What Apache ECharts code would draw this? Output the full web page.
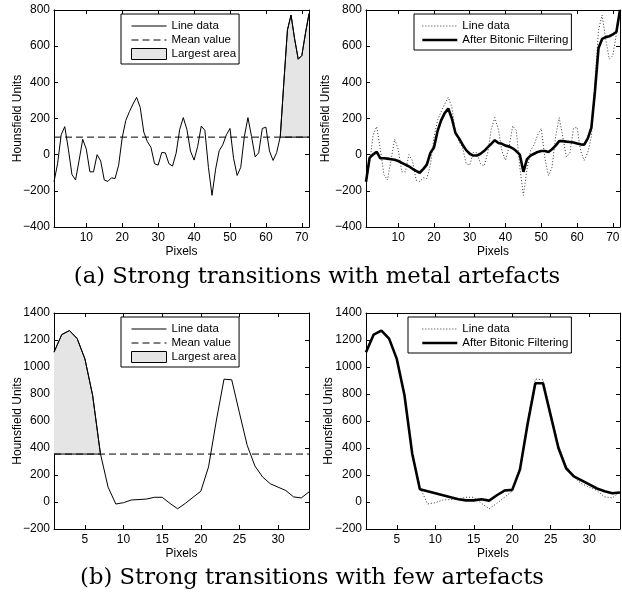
<!DOCTYPE html>
<html>
<head>
<meta charset="utf-8">
<script src="https://cdn.jsdelivr.net/npm/echarts@6/dist/echarts.min.js"></script>
<style>
html, body { margin: 0; padding: 0; background: #fff; }
#chart { width: 622px; height: 599px; }
</style>
</head>
<body>
<div id="chart"></div>
<script>
// (a) strong transitions with metal artefacts
const lineA = [
    -150, -50, 110, 155, 30, -110, -140, -30, 85, 30,
    -95, -95, 0, -35, -140, -148, -128, -132, -58, 95,
    190, 238, 280, 317, 262, 125, 72, 40, -50, -58,
    12, 10, -50, -63, 8, 140, 205, 140, 20, -30,
    45, 158, 135, -70, -225, -80, 22, 55, 110, 145,
    -20, -115, -70, 100, 205, 100, -12, 10, 145, 152,
    20, -32, 12, 100, 400, 690, 772, 640, 528, 548, 670, 780
]
const filteredA = [
    -150, -18, 2, 15, -20, -20, -22, -25, -28, -35,
    -45, -55, -65, -78, -90, -100, -80, -55, 10, 40,
    130, 190, 230, 255, 200, 120, 90, 55, 25, 5,
    -5, -5, 5, 20, 40, 60, 80, 65, 60, 50,
    45, 35, 20, 0, -95, -25, -5, 5, 15, 20,
    20, 15, 30, 50, 75, 75, 72, 70, 67, 62,
    57, 55, 90, 150, 350, 590, 640, 650, 655, 665, 680, 800
]
const meanA = 97
const areaStartA = 64
const areaEndA = 72
const xTicksA = [10, 20, 30, 40, 50, 60, 70]

// (b) strong transitions with few artefacts
const lineB = [
    1110, 1240, 1270, 1210, 1060, 790, 360, 110, -15, -5,
    15, 18, 22, 35, 35, -10, -50, -10, 35, 80,
    260, 600, 910, 905, 660, 420, 267, 185, 135, 110,
    85, 38, 30, 75
]
const filteredB = [
    1110, 1240, 1270, 1210, 1060, 790, 360, 95, 80, 65,
    50, 35, 20, 12, 12, 20, 10, 50, 85, 90,
    240, 580, 880, 880, 640, 400, 250, 190, 160, 130,
    100, 80, 65, 70
]
const meanB = 355
const areaStartB = 1
const areaEndB = 7
const xTicksB = [5, 10, 15, 20, 25, 30]

const sans = 'Liberation Sans'
const black = '#000'
const fillGrey = '#e5e5e5'
const dash = [7, 4]
const dot = [1, 2]

const toPairs = (arr) => arr.map((v, i) => [i + 1, v])
// matlab style minus sign, no thousands separator
const tickFormat = (v) => (v < 0 ? '\u2212' + Math.abs(v) : String(v))

const grids = [
    { left: 54, top: 10, width: 255, height: 217 },
    { left: 366, top: 10, width: 254, height: 217 },
    { left: 54, top: 313, width: 255, height: 216 },
    { left: 366, top: 313, width: 254, height: 216 },
].map(g => Object.assign({ containLabel: false, outerBoundsMode: 'none' }, g))

const axisText = { color: black, fontSize: 12, fontFamily: sans }

const makeX = (gridIndex, max, ticks) => {
    const base = {
        type: 'value', gridIndex, min: 1, max,
        axisLine: { show: true, onZero: false, lineStyle: { color: black, width: 1 } },
        axisTick: { show: true, inside: true, length: 4, customValues: ticks, lineStyle: { color: black } },
        splitLine: { show: false },
    }
    return [
        Object.assign({}, base, {
            position: 'bottom',
            axisLabel: Object.assign({ customValues: ticks, margin: 5, formatter: tickFormat }, axisText),
            name: 'Pixels', nameLocation: 'middle', nameGap: 19, nameMoveOverlap: false,
            nameTextStyle: axisText,
        }),
        Object.assign({}, base, { position: 'top', axisLabel: { show: false } }),
    ]
}

const makeY = (gridIndex, min, max, gap) => {
    const base = {
        type: 'value', gridIndex, min, max, interval: 200,
        axisLine: { show: true, onZero: false, lineStyle: { color: black, width: 1 } },
        axisTick: { show: true, inside: true, length: 4, lineStyle: { color: black } },
        splitLine: { show: false },
    }
    return [
        Object.assign({}, base, {
            position: 'left',
            axisLabel: Object.assign({ margin: 4, formatter: tickFormat }, axisText),
            name: 'Hounsfield Units', nameLocation: 'middle', nameGap: gap, nameMoveOverlap: false,
            nameTextStyle: axisText,
        }),
        Object.assign({}, base, { position: 'right', axisLabel: { show: false } }),
    ]
}

const xAxis = [].concat(makeX(0, 72, xTicksA), makeX(1, 72, xTicksA), makeX(2, 34, xTicksB), makeX(3, 34, xTicksB))
const yAxis = [].concat(makeY(0, -400, 800, 30), makeY(1, -400, 800, 34), makeY(2, -200, 1400, 30), makeY(3, -200, 1400, 31))

const plain = (name, idx, data, style) => ({
    type: 'line', name, xAxisIndex: idx * 2, yAxisIndex: idx * 2, data,
    symbol: 'none', silent: true, animation: false,
    lineStyle: Object.assign({ color: black, width: 1 }, style),
})

// panel with mean line and shaded largest area
const areaPanel = (idx, line, mean, start, end) => [
    Object.assign(plain('Largest area', idx, toPairs(line).slice(start - 1, end)), {
        areaStyle: { color: fillGrey, opacity: 1, origin: mean },
    }),
    plain('area edge', idx, [[start, mean], [end, mean]]),
    plain('Mean value', idx, [[1, mean], [line.length, mean]], { type: dash }),
    plain('Line data', idx, toPairs(line)),
]

// panel with raw data dotted and filtered data bold
const filterPanel = (idx, line, filtered) => [
    plain('Line data', idx, toPairs(line), { type: dot, color: '#333' }),
    plain('After Bitonic Filtering', idx, toPairs(filtered), { width: 2.6 }),
]

const series = [].concat(
    areaPanel(0, lineA, meanA, areaStartA, areaEndA),
    filterPanel(1, lineA, filteredA),
    areaPanel(2, lineB, meanB, areaStartB, areaEndB),
    filterPanel(3, lineB, filteredB)
)

const legendBase = {
    orient: 'vertical', selectedMode: false,
    backgroundColor: '#fff', borderColor: black, borderWidth: 1, borderRadius: 0,
    itemWidth: 35, itemHeight: 11, itemGap: 2,
    textStyle: { color: black, fontSize: 11.5, fontFamily: sans },
}
// hide the symbol that line series put in the middle of their legend line
const noSymbol = { color: 'rgba(0,0,0,0)', opacity: 0, borderWidth: 0 }
const areaLegendData = [
    { name: 'Line data', itemStyle: noSymbol, lineStyle: { type: 'solid', width: 1, color: black } },
    { name: 'Mean value', itemStyle: noSymbol, lineStyle: { type: dash, width: 1, color: black } },
    { name: 'Largest area', icon: 'rect', itemStyle: { color: fillGrey, borderColor: black, borderWidth: 1 } },
]
const filterLegendData = [
    { name: 'Line data', itemStyle: noSymbol, lineStyle: { type: dot, width: 1, color: '#333' } },
    { name: 'After Bitonic Filtering', itemStyle: noSymbol, lineStyle: { type: 'solid', width: 2.6, color: black } },
]
const legend = [
    Object.assign({}, legendBase, { left: 121, top: 14, padding: [6, 3, 4, 10], data: areaLegendData }),
    Object.assign({}, legendBase, { left: 414, top: 14, padding: [6, 3, 4, 7], data: filterLegendData }),
    Object.assign({}, legendBase, { left: 121, top: 317, padding: [6, 3, 4, 10], data: areaLegendData }),
    Object.assign({}, legendBase, { left: 408, top: 317, padding: [6, 3, 4, 13], data: filterLegendData }),
]

const caption = (text, x, y) => ({
    type: 'text', x, y, silent: true,
    style: { text, fill: black, font: '22.7px "DejaVu Serif"', textAlign: 'center', textVerticalAlign: 'middle' },
})

const options = {
    animation: false,
    backgroundColor: '#fff',
    grid: grids,
    xAxis,
    yAxis,
    legend,
    series,
    graphic: [
        caption('(a) Strong transitions with metal artefacts', 317, 277),
        caption('(b) Strong transitions with few artefacts', 312, 578),
    ],
}

const myChart = echarts.init(document.getElementById('chart'), null, { renderer: 'canvas' })
myChart.setOption(options)
</script>
</body>
</html>
